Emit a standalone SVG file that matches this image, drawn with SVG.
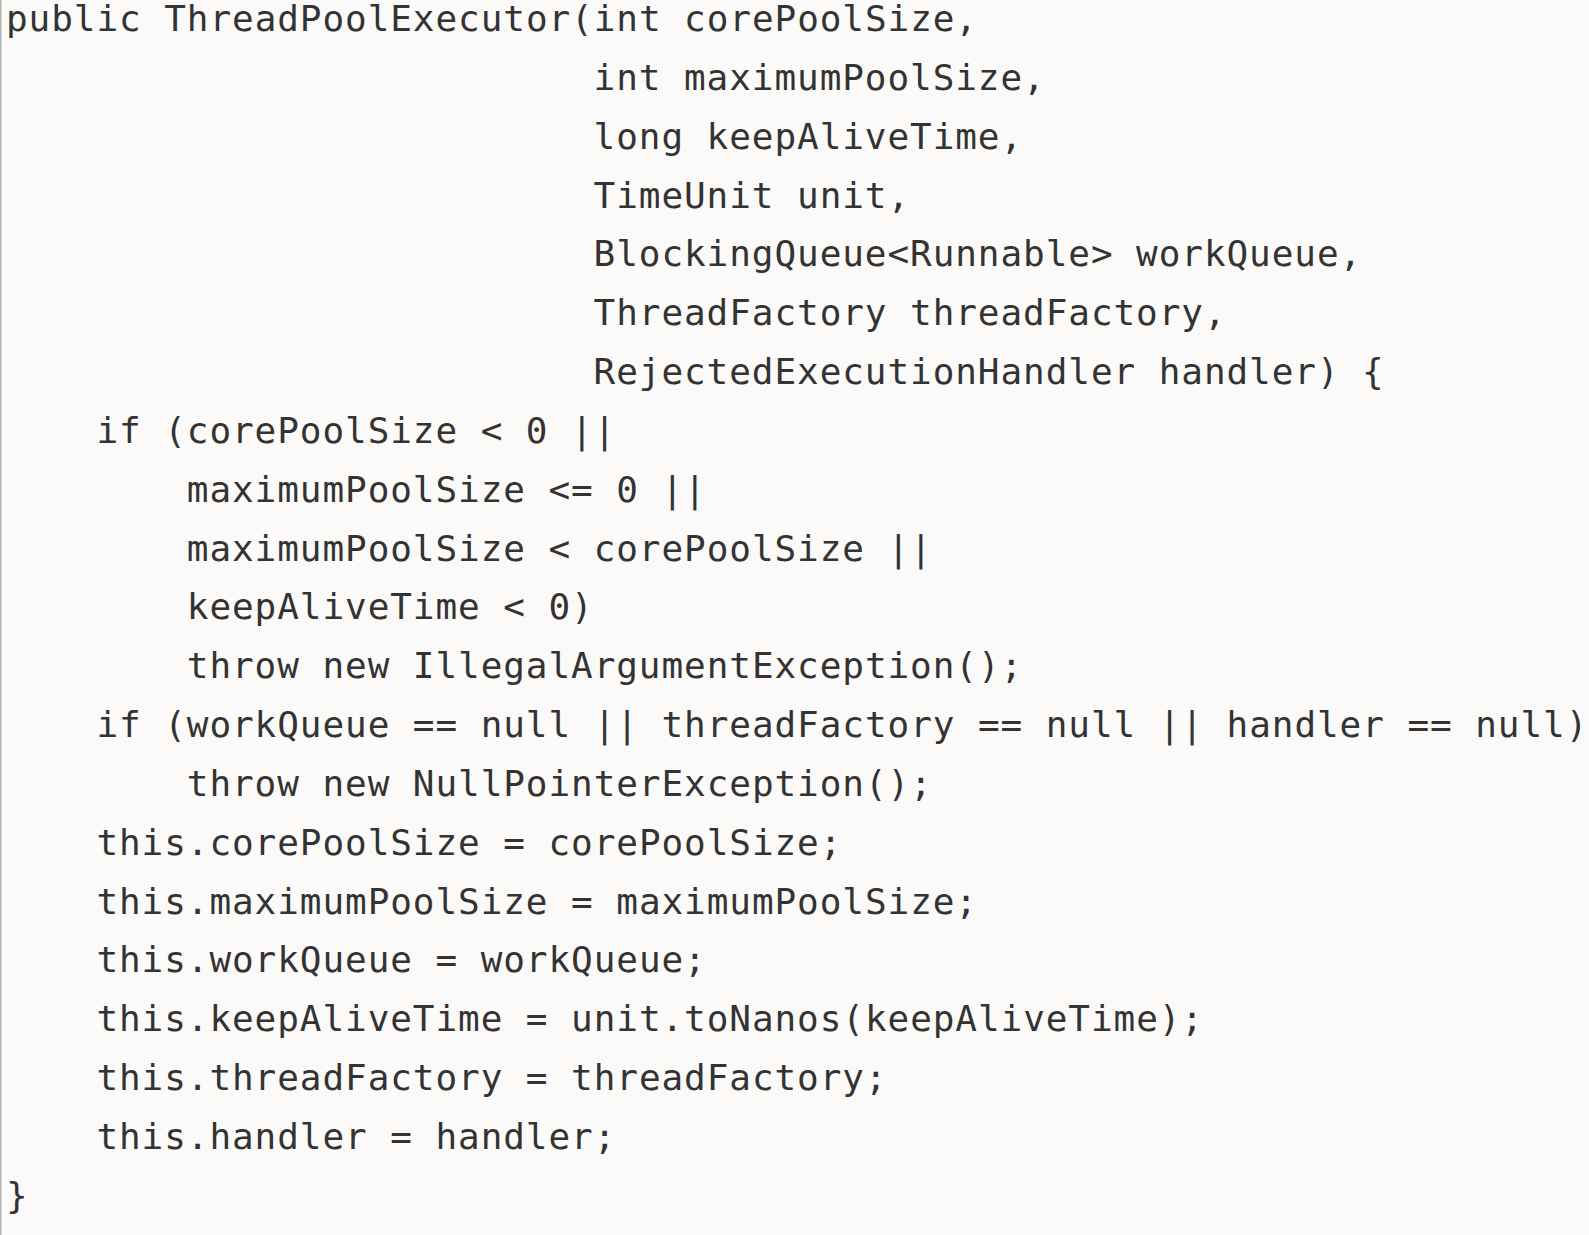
<svg xmlns="http://www.w3.org/2000/svg" width="1589" height="1235" viewBox="0 0 1589 1235">
<style>
.code{font-family:"DejaVu Sans Mono","Liberation Mono",monospace;font-size:36px;letter-spacing:0.93px;fill:#333333;white-space:pre}
</style>
<rect x="0" y="0" width="1589" height="1235" fill="#fbfaf9"/>
<line x1="0.75" y1="0" x2="0.75" y2="1235" stroke="#b4b4b4" stroke-width="1.5"/>
<g id="code" class="code">
<text x="6" y="31">public ThreadPoolExecutor(int corePoolSize,</text>
<text x="593.6" y="89.8">int maximumPoolSize,</text>
<text x="593.6" y="148.7">long keepAliveTime,</text>
<text x="593.6" y="207.5">TimeUnit unit,</text>
<text x="593.6" y="266.4">BlockingQueue&lt;Runnable&gt; workQueue,</text>
<text x="593.6" y="325.2">ThreadFactory threadFactory,</text>
<text x="593.6" y="384">RejectedExecutionHandler handler) {</text>
<text x="96.4" y="442.9">if (corePoolSize &lt; 0 ||</text>
<text x="186.8" y="501.7">maximumPoolSize &lt;= 0 ||</text>
<text x="186.8" y="560.6">maximumPoolSize &lt; corePoolSize ||</text>
<text x="186.8" y="619.4">keepAliveTime &lt; 0)</text>
<text x="186.8" y="678.2">throw new IllegalArgumentException();</text>
<text x="96.4" y="737.1">if (workQueue == null || threadFactory == null || handler == null)</text>
<text x="186.8" y="795.9">throw new NullPointerException();</text>
<text x="96.4" y="854.8">this.corePoolSize = corePoolSize;</text>
<text x="96.4" y="913.6">this.maximumPoolSize = maximumPoolSize;</text>
<text x="96.4" y="972.4">this.workQueue = workQueue;</text>
<text x="96.4" y="1031.3">this.keepAliveTime = unit.toNanos(keepAliveTime);</text>
<text x="96.4" y="1090.1">this.threadFactory = threadFactory;</text>
<text x="96.4" y="1149">this.handler = handler;</text>
<text x="6" y="1207.8">}</text>
</g>
</svg>
